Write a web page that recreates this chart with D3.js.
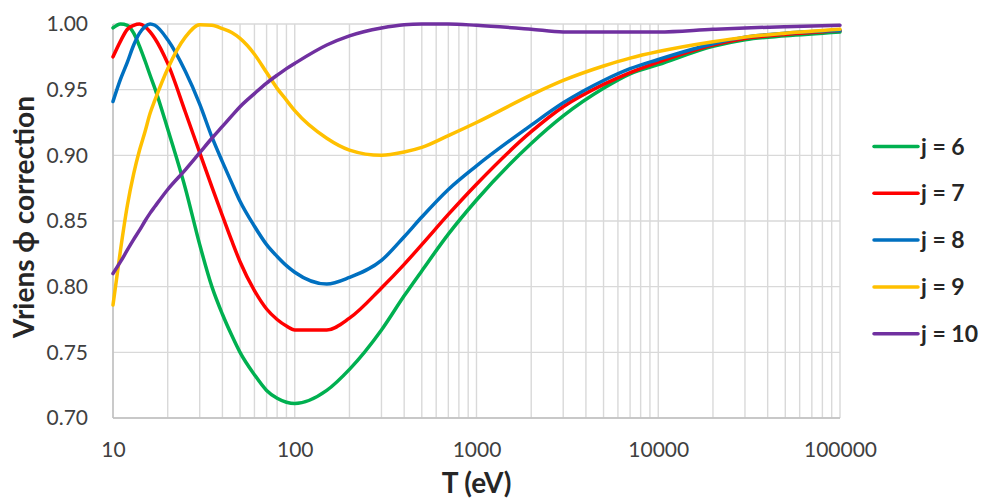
<!DOCTYPE html>
<html>
<head>
<meta charset="utf-8">
<script src="https://cdn.jsdelivr.net/npm/d3@7"></script>
<style>
  html, body { margin: 0; padding: 0; background: #ffffff; }
  svg { display: block; }
  text { font-family: Lato, "Open Sans", "DejaVu Sans", sans-serif; }
</style>
</head>
<body>
<svg id="chart" width="984" height="498"></svg>
<script>
// Temperature samples (eV)
const temps = [10, 11, 12, 13, 14, 15, 16, 17, 20, 25, 30, 35, 40, 45, 50, 60, 70, 80, 90, 100,
  150, 200, 300, 400, 500, 700, 1000, 2000, 3000, 5000, 7000, 10000, 20000, 30000, 50000, 100000];

// Vriens phi correction for each j
const j6 = [0.997, 1.000, 0.999, 0.993, 0.983, 0.972, 0.961, 0.951, 0.920, 0.875, 0.832, 0.800, 0.779, 0.763, 0.750, 0.733, 0.721, 0.715, 0.712, 0.711,
  0.721, 0.737, 0.767, 0.793, 0.812, 0.840, 0.866, 0.909, 0.930, 0.951, 0.962, 0.969, 0.983, 0.988, 0.991, 0.994];
const j7 = [0.975, 0.987, 0.996, 0.999, 1.000, 0.998, 0.994, 0.989, 0.970, 0.933, 0.902, 0.876, 0.854, 0.835, 0.819, 0.797, 0.783, 0.775, 0.770, 0.767,
  0.767, 0.776, 0.799, 0.817, 0.832, 0.855, 0.878, 0.918, 0.937, 0.954, 0.963, 0.971, 0.984, 0.989, 0.992, 0.995];
const j8 = [0.941, 0.958, 0.971, 0.984, 0.993, 0.998, 1.000, 0.999, 0.988, 0.964, 0.939, 0.914, 0.895, 0.879, 0.865, 0.846, 0.832, 0.823, 0.816, 0.811,
  0.802, 0.807, 0.820, 0.838, 0.853, 0.874, 0.892, 0.923, 0.940, 0.957, 0.966, 0.973, 0.985, 0.990, 0.993, 0.995];
const j9 = [0.786, 0.828, 0.862, 0.886, 0.904, 0.918, 0.932, 0.942, 0.966, 0.990, 0.9995, 0.999, 0.9965, 0.9935, 0.989, 0.977, 0.963, 0.951, 0.942, 0.934,
  0.913, 0.904, 0.900, 0.9025, 0.906, 0.915, 0.925, 0.946, 0.957, 0.968, 0.974, 0.979, 0.9865, 0.990, 0.993, 0.996];
const j10 = [0.810, 0.819, 0.828, 0.836, 0.843, 0.850, 0.856, 0.861, 0.874, 0.889, 0.902, 0.913, 0.922, 0.930, 0.937, 0.947, 0.955, 0.961, 0.966, 0.970,
  0.984, 0.991, 0.997, 0.9995, 1.000, 1.000, 0.999, 0.996, 0.994, 0.994, 0.994, 0.994, 0.996, 0.997, 0.998, 0.999];

const seriesNames = ["j = 6", "j = 7", "j = 8", "j = 9", "j = 10"];
const seriesValues = [j6, j7, j8, j9, j10];
const seriesColors = ["#00b050", "#ff0000", "#0070c0", "#ffc000", "#7030a0"];

const xTickValues = [10, 100, 1000, 10000, 100000];
const yTickValues = [0.70, 0.75, 0.80, 0.85, 0.90, 0.95, 1.00];

const svg = d3.select("#chart");
const margin = { left: 113, right: 144, top: 24, bottom: 80 };
const W = 984, H = 498;

const x = d3.scaleLog().domain([10, 100000]).range([margin.left, W - margin.right]);
const y = d3.scaleLinear().domain([0.70, 1.00]).range([H - margin.bottom, margin.top]);

// Minor + major vertical grid (1..9 per decade)
const xGrid = [];
for (let d = 10; d < 100000; d *= 10) for (let k = 1; k <= 9; k++) xGrid.push(d * k);
xGrid.push(100000);

const grid = svg.append("g");
grid.selectAll("line.v").data(xGrid).join("line")
  .attr("x1", d => x(d)).attr("x2", d => x(d))
  .attr("y1", y(1.0)).attr("y2", y(0.70))
  .attr("stroke", "#d9d9d9").attr("stroke-width", 1.4);
grid.selectAll("line.h").data(yTickValues).join("line")
  .attr("x1", x(10)).attr("x2", x(100000))
  .attr("y1", d => y(d)).attr("y2", d => y(d))
  .attr("stroke", "#d9d9d9").attr("stroke-width", 1.4);

// Axis lines
svg.append("line").attr("x1", x(10)).attr("x2", x(100000))
  .attr("y1", y(0.70)).attr("y2", y(0.70)).attr("stroke", "#bfbfbf").attr("stroke-width", 1.4);
svg.append("line").attr("x1", x(10)).attr("x2", x(10))
  .attr("y1", y(1.0)).attr("y2", y(0.70)).attr("stroke", "#bfbfbf").attr("stroke-width", 1.4);

// Tick labels via d3 axes
const xAxis = d3.axisBottom(x).tickValues(xTickValues).tickFormat(d3.format("d")).tickSize(0).tickPadding(24);
const gx = svg.append("g").attr("transform", `translate(0,${y(0.70)})`).call(xAxis);
gx.select(".domain").remove();
gx.selectAll("text").attr("font-size", 21).attr("fill", "#404040");

const yAxis = d3.axisLeft(y).tickValues(yTickValues).tickFormat(d3.format(".2f")).tickSize(0).tickPadding(25);
const gy = svg.append("g").attr("transform", `translate(${x(10)},0)`).call(yAxis);
gy.select(".domain").remove();
gy.selectAll("text").attr("font-size", 21).attr("fill", "#404040");

// Axis titles
svg.append("text").attr("x", (x(10) + x(100000)) / 2).attr("y", 493)
  .attr("text-anchor", "middle").attr("font-size", 28).attr("font-weight", "bold").attr("fill", "#262626")
  .text("T (eV)");
svg.append("text").attr("transform", `translate(34,${(y(1.0) + y(0.70)) / 2 - 4}) rotate(-90)`)
  .attr("text-anchor", "middle").attr("font-size", 28).attr("font-weight", "bold").attr("fill", "#262626")
  .text("Vriens ϕ correction");

// Curves
const line = d3.line().x(d => x(d[0])).y(d => y(d[1])).curve(d3.curveMonotoneX);
seriesValues.forEach((vals, i) => {
  svg.append("path")
    .datum(temps.map((t, k) => [t, vals[k]]))
    .attr("fill", "none").attr("stroke", seriesColors[i]).attr("stroke-width", 3.5)
    .attr("stroke-linejoin", "round").attr("stroke-linecap", "round")
    .attr("d", line);
});

// Legend
const legend = svg.append("g");
seriesNames.forEach((name, i) => {
  const ly = 146.5 + i * 46.8;
  legend.append("line").attr("x1", 874).attr("x2", 918).attr("y1", ly).attr("y2", ly)
    .attr("stroke", seriesColors[i]).attr("stroke-width", 3.5).attr("stroke-linecap", "round");
  legend.append("text").attr("x", 921).attr("y", ly).attr("dy", "0.35em")
    .attr("font-size", 23).attr("font-weight", "bold").attr("fill", "#262626").text(name);
});
</script>
</body>
</html>
